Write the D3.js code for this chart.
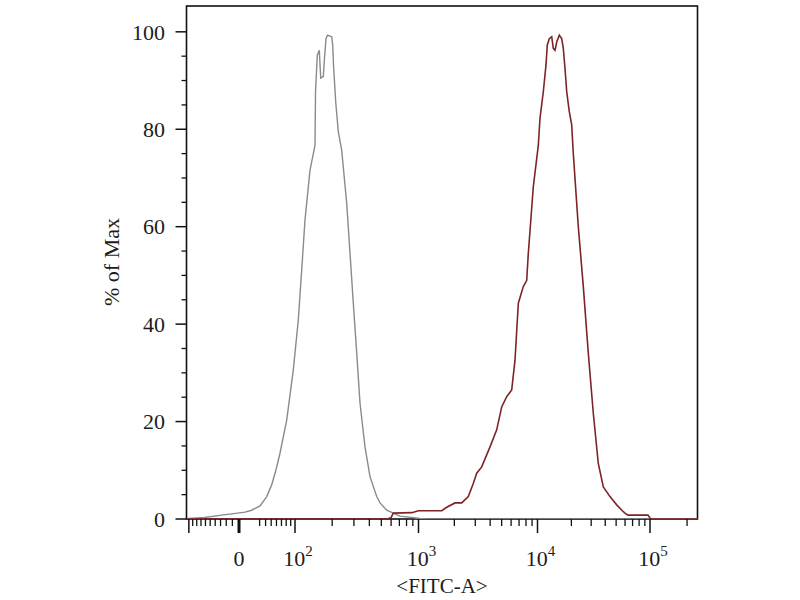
<!DOCTYPE html>
<html>
<head>
<meta charset="utf-8">
<script src="https://cdn.jsdelivr.net/npm/d3@7/dist/d3.min.js"></script>
<style>
  body { margin: 0; background: #fff; }
  svg { display: block; }
  text { font-family: "Liberation Serif", "DejaVu Serif", serif; fill: #1c1c1c; }
</style>
</head>
<body>
<svg id="chart" width="800" height="600"></svg>
<script>
// ---- data ----
const xMajorTicks = [0, 100, 1000, 10000, 100000];
const xMajorExponents = [null, 2, 3, 4, 5];
const xUnlabeledMajor = [-100];
const xMinorTicks = [-90, -80, -70, -60, -50, -40, -30, -20, -10,
  30, 40, 50, 60, 70, 80, 90,
  200, 300, 400, 500, 600, 700, 800, 900,
  2000, 3000, 4000, 5000, 6000, 7000, 8000, 9000,
  20000, 30000, 40000, 50000, 60000, 70000, 80000, 90000,
  200000];
const yMajorTicks = [0, 20, 40, 60, 80, 100];
const yMinorTicks = [5, 10, 15, 25, 30, 35, 45, 50, 55, 65, 70, 75, 85, 90, 95];

// isotype control (grey)
const controlValues = [-105, -100.8, -61.7, -28.2, -2, 8, 17.7, 30.6, 42, 50.9, 59.1, 67, 81.1, 96,
  106.3, 113.3, 120.5, 132.3, 145.2, 146.6, 151.5, 157.3, 161.5, 169.5, 173.3, 178.2, 183.3,
  198.2, 202, 205, 213.6, 224.2, 238.8, 262.2, 278.8, 296.6, 316, 336, 368.7, 404.9, 458.7,
  488, 552.7, 625, 708, 1029, 1200, 250000];
const controlPct = [0, 0.1, 0.3, 0.8, 1.2, 1.4, 1.8, 2.7, 4.6, 7.0, 10.1, 13.5, 20.3, 30.6,
  40.8, 51.1, 61.4, 71.6, 76.7, 87.7, 95.2, 96.2, 90.5, 90.8, 94.6, 98.6, 99.3,
  99.0, 97.3, 93.2, 85.6, 79.5, 75.7, 64.8, 54.6, 44.3, 34.1, 23.8, 14.8, 8.7, 4.6,
  3.3, 1.8, 1.2, 0.6, 0.1, 0, 0];

// stained sample (red)
const sampleValues = [-105, 560, 600, 625, 881, 1000, 1567, 1726, 2026, 2307, 2621, 2887, 3084,
  3397, 3990, 4541, 5003, 5510, 6071, 6471, 6900, 7599, 8116, 8369, 9221, 10165, 10525,
  11261, 11901, 12222, 12733, 13373, 13818, 14311, 14818, 15623, 16413, 16958, 17558,
  18183, 19177, 20137, 20807, 23056, 25543, 28293, 31333, 34713, 38459, 44107, 50582,
  57910, 59950, 63740, 95980, 100000, 102000, 250000];
const samplePct = [0, 0, 0.3, 1.2, 1.3, 1.7, 1.7, 2.4, 3.3, 3.3, 4.6, 7.3, 9.4,
  10.7, 14.8, 18.3, 23.0, 25.1, 26.5, 32.6, 44.3, 47.7, 49.0, 54.5, 68.2, 76.7, 82.3,
  87.7, 93.2, 97.3, 98.6, 99.0, 96.6, 96.2, 97.9, 99.3, 98.6, 96.6, 92.5,
  87.7, 83.6, 80.9, 75.0, 60.0, 47.7, 34.0, 21.7, 11.4, 6.6, 4.6, 2.9,
  1.5, 1.2, 0.8, 0.8, 0.2, 0, 0];

// ---- layout ----
const plot = { left: 186.5, right: 697.5, top: 6, bottom: 519 };
const svg = d3.select("#chart");

// biexponential-like display transform: linear-ish near zero, log10 above 100
const C = 120, L = Math.log10(1 + 100 / C);
function bx(v) {
  if (v >= 100) return Math.log10(v) - 1;
  return Math.sign(v) * Math.log10(1 + Math.abs(v) / C) / L;
}
const x = d3.scaleLinear()
  .domain([bx(-105), 0, 1, 2, 3, 4, bx(250000)])
  .range([187, 239, 295, 418.5, 537.5, 650, 699]);
const y = d3.scaleLinear().domain([0, 105.3]).range([plot.bottom, plot.top]);

svg.append("defs").append("clipPath").attr("id", "clip")
  .append("rect")
  .attr("x", plot.left).attr("y", plot.top - 2)
  .attr("width", plot.right - plot.left).attr("height", plot.bottom - plot.top + 2);

// x ticks
const gx = svg.append("g");
gx.selectAll("line.minor").data(xMinorTicks).join("line")
  .attr("x1", d => x(bx(d))).attr("x2", d => x(bx(d)))
  .attr("y1", plot.bottom).attr("y2", plot.bottom + 7)
  .attr("stroke", "#111").attr("stroke-width", 1.3);
gx.selectAll("line.major").data(xMajorTicks.concat(xUnlabeledMajor)).join("line")
  .attr("x1", d => x(bx(d))).attr("x2", d => x(bx(d)))
  .attr("y1", plot.bottom).attr("y2", plot.bottom + 14)
  .attr("stroke", "#111").attr("stroke-width", d => d === 0 ? 3 : 1.5);

const xl = gx.selectAll("text").data(xMajorTicks).join("text")
  .attr("x", (d, i) => x(bx(d)) + (xMajorExponents[i] === null ? 0 : 3))
  .attr("y", 566)
  .attr("text-anchor", "middle")
  .attr("font-size", 22);
xl.each(function(d, i) {
  const t = d3.select(this);
  if (xMajorExponents[i] === null) { t.text(String(d)); return; }
  t.append("tspan").text("10");
  t.append("tspan").attr("dy", -10).attr("font-size", 15).text(String(xMajorExponents[i]));
});

// y ticks
const gy = svg.append("g");
gy.selectAll("line.minor").data(yMinorTicks).join("line")
  .attr("x1", plot.left - 5).attr("x2", plot.left)
  .attr("y1", d => y(d)).attr("y2", d => y(d))
  .attr("stroke", "#111").attr("stroke-width", 1.3);
gy.selectAll("line.major").data(yMajorTicks).join("line")
  .attr("x1", plot.left - 11).attr("x2", plot.left)
  .attr("y1", d => y(d)).attr("y2", d => y(d))
  .attr("stroke", "#111").attr("stroke-width", 1.5);
gy.selectAll("text").data(yMajorTicks).join("text")
  .attr("x", 165).attr("y", d => y(d)).attr("dy", "0.35em")
  .attr("text-anchor", "end").attr("font-size", 22)
  .text(d => d);

// frame
svg.append("rect")
  .attr("x", plot.left).attr("y", plot.top)
  .attr("width", plot.right - plot.left).attr("height", plot.bottom - plot.top)
  .attr("fill", "none").attr("stroke", "#111").attr("stroke-width", 1.6);

// curves
const line = d3.line().x(d => x(bx(d[0]))).y(d => y(d[1]));
const controlData = controlValues.map((v, i) => [v, controlPct[i]]);
const sampleData = sampleValues.map((v, i) => [v, samplePct[i]]);

const gc = svg.append("g").attr("clip-path", "url(#clip)");
gc.append("path").datum(controlData).attr("d", line)
  .attr("fill", "none").attr("stroke", "#8a8a8a").attr("stroke-width", 1.4);
gc.append("path").datum(sampleData).attr("d", line)
  .attr("fill", "none").attr("stroke", "#7d2424").attr("stroke-width", 1.6);

// axis titles
svg.append("text")
  .attr("x", 442).attr("y", 593)
  .attr("text-anchor", "middle").attr("font-size", 21)
  .text("<FITC-A>");
svg.append("text")
  .attr("transform", "translate(119,262) rotate(-90)")
  .attr("text-anchor", "middle").attr("font-size", 22)
  .text("% of Max");
</script>
</body>
</html>
